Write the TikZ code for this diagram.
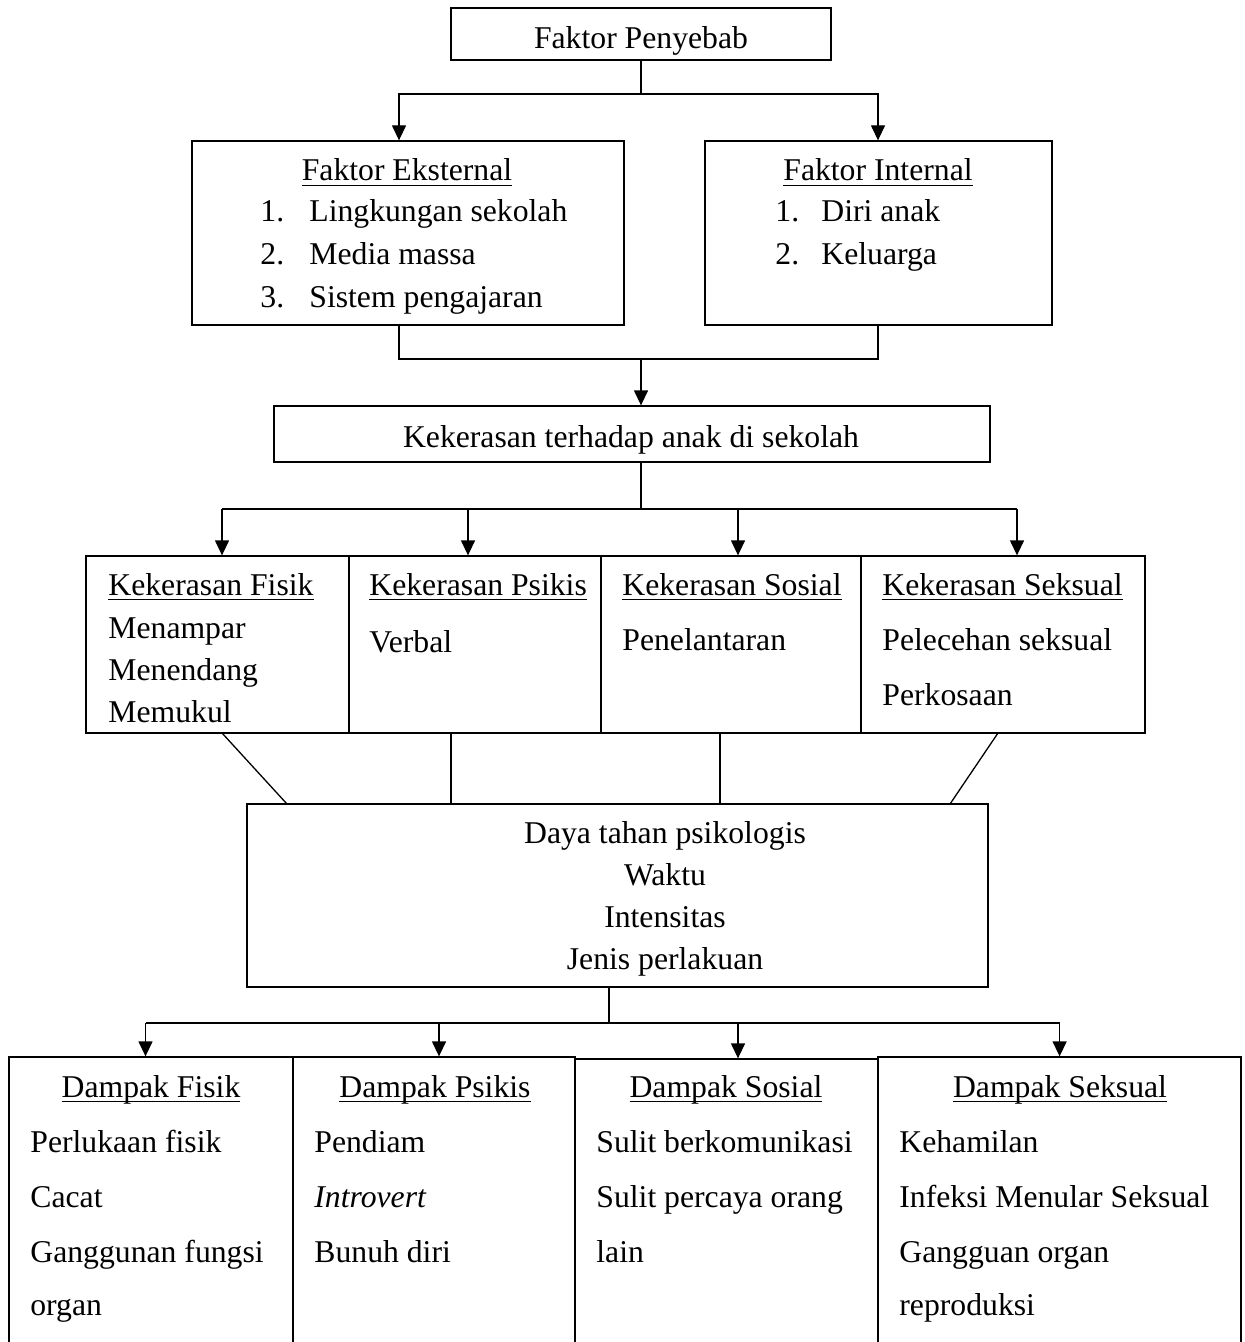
\documentclass[tikz,border=0pt]{standalone}
\usepackage{fontspec}
\setmainfont{Liberation Serif}
\usetikzlibrary{arrows.meta,fit}
\newcommand{\myul}[1]{\setbox0=\hbox{#1}\rlap{\rule[-2.5pt]{\wd0}{0.55pt}}\box0}
\tikzset{
  box/.style={draw, line width=0.65pt, inner sep=0pt, rectangle},
  txt/.style={inner sep=0pt, anchor=base west, font=\fontsize{15.85}{19}\selectfont},
  ctxt/.style={txt, anchor=base},
  conn/.style={line width=0.65pt},
  arr/.style={line width=0.65pt, -{Triangle[length=7.5pt,width=7pt]}}
}
\begin{document}
\begin{tikzpicture}[x=0.5pt,y=-0.5pt]
\useasboundingbox (0,0) rectangle (1244,1342);
\clip (0,0) rectangle (1244,1342);
\fill[white] (0,0) rectangle (1244,1342);

% ---------- top ----------
\node[box, fit={(451,8) (831,60)}] (pb) {};
\node[ctxt] (pbt) at (641,49) {Faktor Penyebab};

\node[box, fit={(192,141) (624,325)}] (fe) {};
\node[ctxt] (feh) at (407,181) {\myul{Faktor Eksternal}};
\node[txt] (fe1n) at (260,222) {1.};
\node[txt] (fe1) at (309,222) {Lingkungan sekolah};
\node[txt] (fe2n) at (260,265) {2.};
\node[txt] (fe2) at (309,265) {Media massa};
\node[txt] (fe3n) at (260,307) {3.};
\node[txt] (fe3) at (309,307) {Sistem pengajaran};

\node[box, fit={(705,141) (1052,325)}] (fi) {};
\node[ctxt] (fih) at (878,181) {\myul{Faktor Internal}};
\node[txt] (fi1n) at (775,222) {1.};
\node[txt] (fi1) at (821,222) {Diri anak};
\node[txt] (fi2n) at (775,265) {2.};
\node[txt] (fi2) at (821,265) {Keluarga};

\coordinate (tL) at (399,94);
\coordinate (tR) at (878,94);
\draw[arr] (pb.south) |- (tL) -- (tL |- fe.north);
\draw[arr] (pb.south) |- (tR) -- (tR |- fi.north);

% ---------- merge ----------
\coordinate (mL) at (399,359);
\coordinate (mR) at (878,359);
\coordinate (mC) at (641,359);
\draw[conn] (mL |- fe.south) -- (mL) -- (mR) -- (mR |- fi.south);

\node[box, fit={(274,406) (990,462)}] (kk) {};
\node[ctxt] (kkt) at (631,447) {Kekerasan terhadap anak di sekolah};
\draw[arr] (mC) -- (mC |- kk.north);

% ---------- kekerasan row ----------
\coordinate (sC) at (641,509);
\coordinate (s1) at (222,509);
\coordinate (s2) at (468,509);
\coordinate (s3) at (738,509);
\coordinate (s4) at (1017,509);

\node[box, fit={(86,556) (349,733)}] (kf) {};
\node[box, fit={(349,556) (601,733)}] (kp) {};
\node[box, fit={(601,556) (861,733)}] (ks) {};
\node[box, fit={(861,556) (1145,733)}] (kx) {};

\draw[conn] (sC |- kk.south) -- (sC);
\draw[conn] (s1) -- (s4);
\draw[arr] (s1) -- (s1 |- kf.north);
\draw[arr] (s2) -- (s2 |- kp.north);
\draw[arr] (s3) -- (s3 |- ks.north);
\draw[arr] (s4) -- (s4 |- kx.north);

\node[txt] (kfh) at (108,595) {\myul{Kekerasan Fisik}};
\node[txt] (kf1) at (108,638) {Menampar};
\node[txt] (kf2) at (108,680) {Menendang};
\node[txt] (kf3) at (108,722) {Memukul};

\node[txt] (kph) at (369,595) {\myul{Kekerasan Psikis}};
\node[txt] (kp1) at (369,652) {Verbal};

\node[txt] (ksh) at (622,595) {\myul{Kekerasan Sosial}};
\node[txt] (ks1) at (622,650) {Penelantaran};

\node[txt] (kxh) at (882,595) {\myul{Kekerasan Seksual}};
\node[txt] (kx1) at (882,650) {Pelecehan seksual};
\node[txt] (kx2) at (882,705) {Perkosaan};

% ---------- daya tahan ----------
\node[box, fit={(247,804) (988,987)}] (dy) {};
\node[ctxt] (dy1) at (665,843) {Daya tahan psikologis};
\node[ctxt] (dy2) at (665,885) {Waktu};
\node[ctxt] (dy3) at (665,927) {Intensitas};
\node[ctxt] (dy4) at (665,969) {Jenis perlakuan};

\coordinate (c1) at (222,733);
\coordinate (d1) at (287,804);
\coordinate (v2) at (451,0);
\coordinate (v3) at (720,0);
\coordinate (c4) at (998,733);
\coordinate (d4) at (950,804);
\draw[conn] (c1) -- (d1);
\draw[conn] (v2 |- kp.south) -- (v2 |- dy.north);
\draw[conn] (v3 |- ks.south) -- (v3 |- dy.north);
\draw[conn] (c4) -- (d4);

% ---------- dampak row ----------
\coordinate (bC) at (609,1023);
\coordinate (b1) at (145.5,1023);
\coordinate (b2) at (439,1023);
\coordinate (b3) at (738,1023);
\coordinate (b4) at (1059.6,1023);

\node[box, fit={(9,1057) (293,1370)}] (df) {};
\node[box, fit={(293,1057) (575,1370)}] (dp) {};
\node[box, fit={(575,1059) (878,1370)}] (ds) {};
\node[box, fit={(878,1057) (1241,1370)}] (dx) {};

\draw[conn] (bC |- dy.south) -- (bC);
\draw[conn] (b1) -- (b4);
\draw[arr] (b1) -- (b1 |- df.north);
\draw[arr] (b2) -- (b2 |- dp.north);
\draw[arr] (b3) -- (b3 |- ds.north);
\draw[arr] (b4) -- (b4 |- dx.north);

\node[ctxt] (dfh) at (151,1097) {\myul{Dampak Fisik}};
\node[txt] (df1) at (30,1152) {Perlukaan fisik};
\node[txt] (df2) at (30,1207) {Cacat};
\node[txt] (df3) at (30,1262) {Ganggunan fungsi};
\node[txt] (df4) at (30,1315) {organ};

\node[ctxt] (dph) at (435,1097) {\myul{Dampak Psikis}};
\node[txt] (dp1) at (314,1152) {Pendiam};
\node[txt] (dp2) at (314,1207) {\textit{Introvert}};
\node[txt] (dp3) at (314,1262) {Bunuh diri};

\node[ctxt] (dsh) at (726,1097) {\myul{Dampak Sosial}};
\node[txt] (ds1) at (596,1152) {Sulit berkomunikasi};
\node[txt] (ds2) at (596,1207) {Sulit percaya orang};
\node[txt] (ds3) at (596,1262) {lain};

\node[ctxt] (dxh) at (1060,1097) {\myul{Dampak Seksual}};
\node[txt] (dx1) at (899,1152) {Kehamilan};
\node[txt] (dx2) at (899,1207) {Infeksi Menular Seksual};
\node[txt] (dx3) at (899,1262) {Gangguan organ};
\node[txt] (dx4) at (899,1315) {reproduksi};
\end{tikzpicture}
\end{document}
